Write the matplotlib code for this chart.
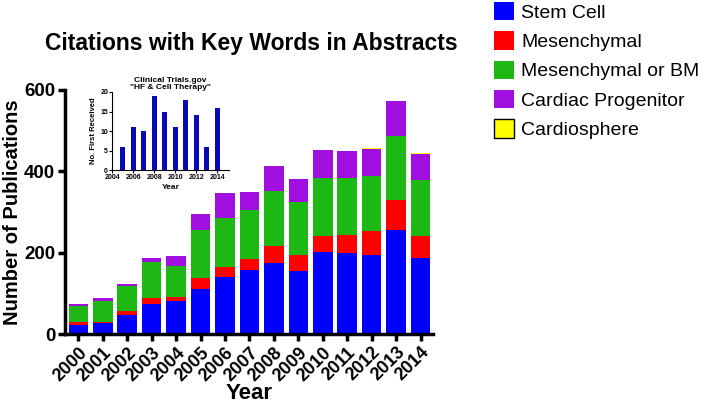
import matplotlib
matplotlib.use("Agg")
import matplotlib.pyplot as plt
from matplotlib.patches import Patch
import numpy as np

plt.rcParams['font.family'] = ['Liberation Sans', 'DejaVu Sans']

# ----------------------------------------------------
# Data
# ----------------------------------------------------
years = ["2000", "2001", "2002", "2003", "2004", "2005", "2006", "2007",
         "2008", "2009", "2010", "2011", "2012", "2013", "2014"]
stem_cell = [23, 27, 48, 74, 81, 112, 141, 157, 176, 155, 201, 199, 194, 257, 188]
mesenchymal = [7, 3, 10, 16, 10, 25, 24, 28, 40, 39, 39, 45, 59, 72, 52]
mesench_bm = [38, 52, 60, 87, 76, 118, 121, 120, 136, 130, 144, 140, 135, 157, 138]
cardiac_prog = [6, 6, 5, 11, 26, 40, 62, 45, 61, 57, 69, 65, 67, 87, 65]
cardiosphere = [0, 0, 0, 0, 0, 0, 0, 0, 0, 0, 0, 0, 2, 0, 2]

trial_years = [2005, 2006, 2007, 2008, 2009, 2010, 2011, 2012, 2013, 2014]
trial_counts = [6, 11, 10, 19, 15, 11, 18, 14, 6, 16]

series = [
    ("Stem Cell", stem_cell, "#0000FF"),
    ("Mesenchymal", mesenchymal, "#FF0000"),
    ("Mesenchymal or BM", mesench_bm, "#1DB814"),
    ("Cardiac Progenitor", cardiac_prog, "#A00FE0"),
    ("Cardiosphere", cardiosphere, "#FFFF00"),
]

# ----------------------------------------------------
# Main stacked bar chart
# ----------------------------------------------------
fig = plt.figure(figsize=(7.06, 4.07), dpi=100)
ax = fig.add_axes([0.092, 0.179, 0.521, 0.600])

x = np.arange(len(years))
bottom = np.zeros(len(years))
for name, vals, color in series:
    ax.bar(x, vals, bottom=bottom, width=0.8, color=color, edgecolor="none")
    bottom += np.array(vals)

ax.set_xlim(-0.55, 14.5)
ax.set_ylim(0, 600)
ax.set_yticks([0, 200, 400, 600])
ax.set_xticks(x)
ax.set_xticklabels(years, rotation=45, ha="right", rotation_mode="anchor",
                   fontsize=13, fontweight="bold")
for lab in ax.get_yticklabels():
    lab.set_fontsize(13.5)
    lab.set_fontweight("bold")
ax.spines["top"].set_visible(False)
ax.spines["right"].set_visible(False)
ax.spines["left"].set_linewidth(2.5)
ax.spines["bottom"].set_linewidth(2.5)
ax.tick_params(width=2.5, length=5, pad=2)
ax.set_ylabel("Number of Publications", fontsize=14.5, fontweight="bold")
ax.yaxis.set_label_coords(-0.118, 0.5)
ax.set_xlabel("Year", fontsize=16, fontweight="bold")
ax.xaxis.set_label_coords(0.5, -0.2)

fig.text(0.356, 0.892, "Citations with Key Words in Abstracts", ha="center",
         va="center", fontsize=16.5, fontweight="bold")

# ----------------------------------------------------
# Inset: clinical trials
# ----------------------------------------------------
ins = fig.add_axes([0.159, 0.582, 0.165, 0.192])
ins.bar(trial_years, trial_counts, width=0.45, color="#0A0AB4", edgecolor="none")
ins.set_xlim(2004, 2015.1)
ins.set_ylim(0, 20)
ins.set_xticks([2004, 2006, 2008, 2010, 2012, 2014])
ins.set_yticks([0, 5, 10, 15, 20])
ins.tick_params(labelsize=5, width=0.8, length=2, pad=1)
for lab in ins.get_xticklabels() + ins.get_yticklabels():
    lab.set_fontweight("bold")
ins.spines["top"].set_visible(False)
ins.spines["right"].set_visible(False)
ins.spines["left"].set_linewidth(0.8)
ins.spines["bottom"].set_linewidth(0.8)
ins.set_title("Clinical Trials.gov\n\"HF & Cell Therapy\"", fontsize=6,
              fontweight="bold", pad=2, linespacing=1.0)
ins.set_xlabel("Year", fontsize=6, fontweight="bold", labelpad=2)
ins.set_ylabel("No. First Received", fontsize=5.5, fontweight="bold", labelpad=2)

# ----------------------------------------------------
# Legend (only the yellow swatch has a black outline)
# ----------------------------------------------------
handles = []
for n, v, c in series:
    edge = "black" if n == "Cardiosphere" else "none"
    handles.append(Patch(facecolor=c, edgecolor=edge, linewidth=1.0, label=n))
fig.legend(handles=handles, loc="upper left", bbox_to_anchor=(0.700, 0.995),
           frameon=False, fontsize=14, handlelength=1.03, handleheight=1.07,
           handletextpad=0.36, labelspacing=0.49, borderaxespad=0,
           borderpad=0)

fig.savefig("out.png", dpi=100)
